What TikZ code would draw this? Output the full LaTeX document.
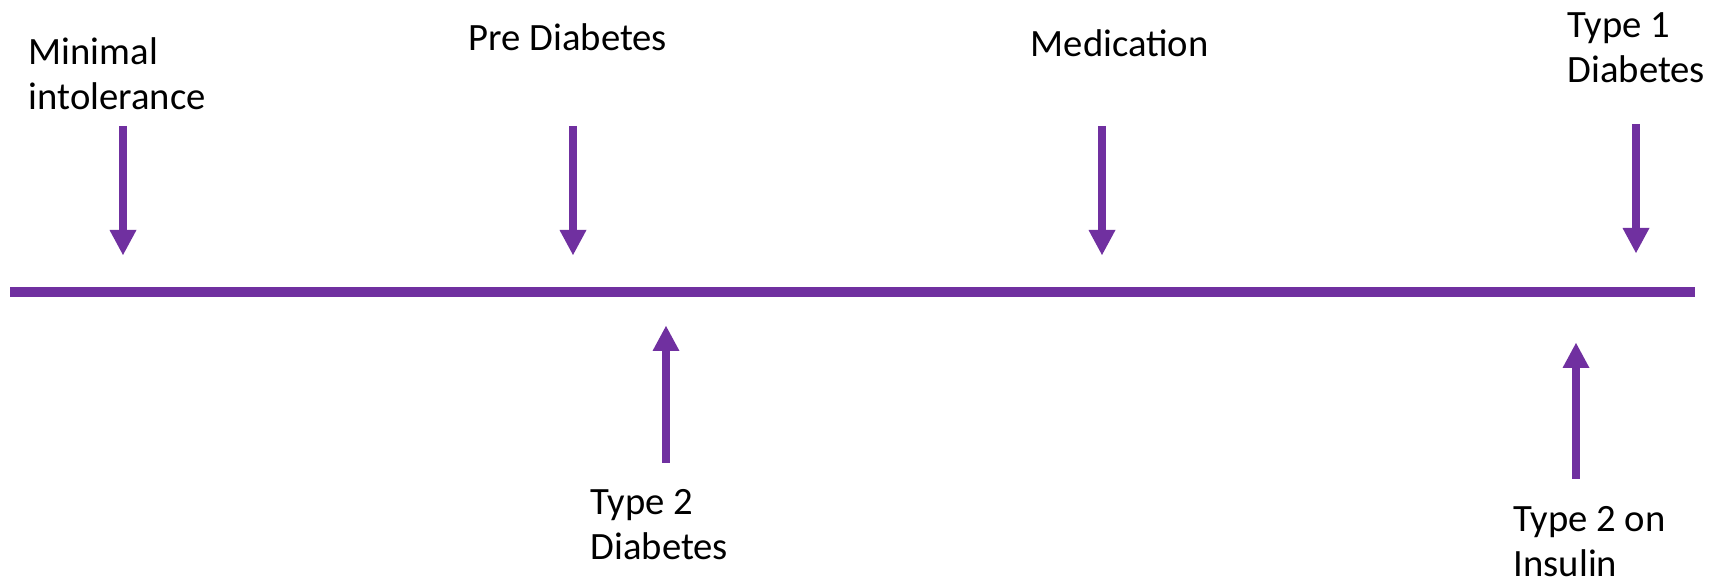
\documentclass[tikz,border=0pt]{standalone}
\usepackage{fontspec}
\setmainfont{Carlito}
\usepackage{tikz}
\usetikzlibrary{arrows.meta, positioning}
\definecolor{stagepurple}{HTML}{7030A0}

\begin{document}
\begin{tikzpicture}[x=0.1mm, y=-0.1mm,
    label/.style={inner sep=0pt, anchor=base west, align=left, font=\fontsize{11}{13}\selectfont},
    stagearrow/.style={color=stagepurple, line width=0.8mm, -{Triangle[width=2.7mm, length=2.5mm, line width=0pt]}}]
    \useasboundingbox (0,0) rectangle (1724,581);

    % timeline
    \coordinate (start) at (10,292);
    \coordinate (end) at (1695,292);
    \draw[stagepurple, line width=1mm] (start) -- (end);

    % stages above the line (base = last line)
    \node[label] (minimal) at (28,110)  {Minimal\\intolerance};
    \node[label] (pre)     at (468,51)  {Pre Diabetes};
    \node[label] (med)     at (1030,57) {Medication};
    \node[label] (type1)   at (1567,83) {Type 1\\Diabetes};

    \coordinate (minimal top) at (123,126);  \coordinate (minimal tip) at (123,255);
    \coordinate (pre top)     at (573,126);  \coordinate (pre tip)     at (573,255);
    \coordinate (med top)     at (1102,126); \coordinate (med tip)     at (1102,255);
    \coordinate (type1 top)   at (1636,124); \coordinate (type1 tip)   at (1636,253);

    % stages below the line
    \node[label] (type2)   at (590,560)  {Type 2\\Diabetes};
    \node[label] (insulin) at (1513,577) {Type 2 on\\Insulin};

    \coordinate (type2 bottom)   at (666,463);  \coordinate (type2 tip)   at (666,326);
    \coordinate (insulin bottom) at (1576,479); \coordinate (insulin tip) at (1576,343);

    \draw[stagearrow] (minimal top) -- (minimal tip);
    \draw[stagearrow] (pre top) -- (pre tip);
    \draw[stagearrow] (med top) -- (med tip);
    \draw[stagearrow] (type1 top) -- (type1 tip);
    \draw[stagearrow] (type2 bottom) -- (type2 tip);
    \draw[stagearrow] (insulin bottom) -- (insulin tip);
\end{tikzpicture}
\end{document}
